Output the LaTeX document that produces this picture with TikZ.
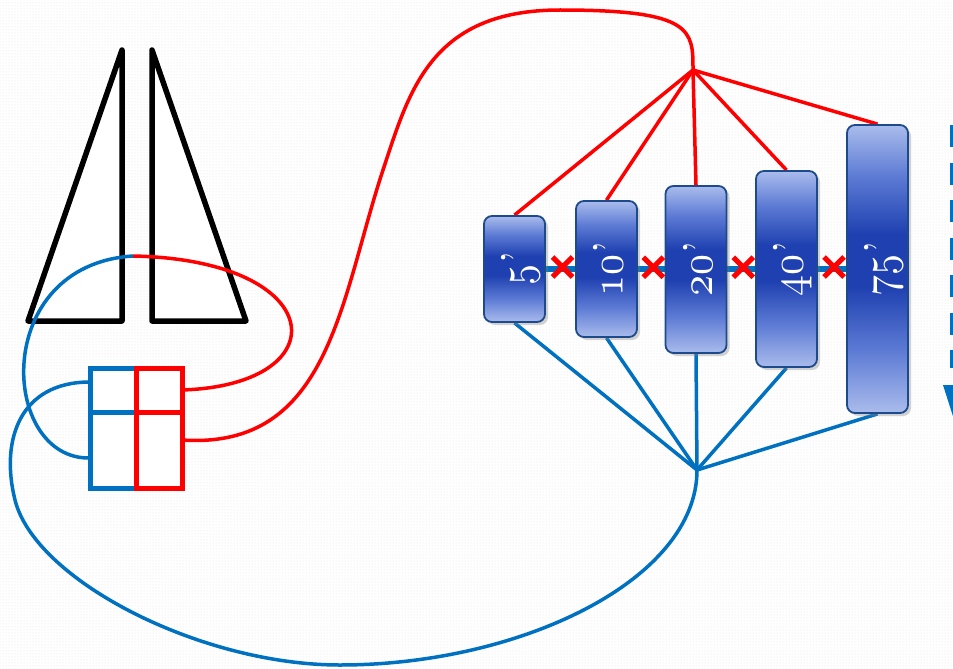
\documentclass[tikz,border=0pt]{standalone}
\usepackage{fontspec}
\usetikzlibrary{shadows,calc,patterns}
\definecolor{cblue}{RGB}{0,112,192}
\definecolor{cred}{RGB}{255,0,0}
\definecolor{blight}{RGB}{170,188,236}
\definecolor{bmid}{RGB}{92,122,212}
\definecolor{bdark}{RGB}{30,64,176}
\definecolor{bborder}{RGB}{28,74,138}
\pgfdeclareverticalshading{boxshade}{100bp}{color(0bp)=(blight); color(25bp)=(blight); color(36bp)=(bmid); color(47bp)=(bdark); color(56bp)=(bdark); color(66bp)=(bmid); color(75bp)=(blight); color(100bp)=(blight)}
\pgfdeclarelayer{back}
\pgfdeclarelayer{bg}
\pgfsetlayers{back,bg,main}
\newcommand{\numlab}[1]{\scalebox{4.2}[4.2]{\scalebox{1}[1.1]{\usefont{OML}{cmm}{m}{it}#1}\kern0.02em’}}
\begin{document}
\begin{tikzpicture}[x=1pt,y=-1pt,
  redcurve/.style={cred, line width=3.5},
  bluecurve/.style={cblue, line width=3.5},
  tri/.style={black, line width=5.5, line join=round, fill=white},
  cellbox/.style={line width=5, fill=white, minimum width=46, minimum height=120, inner sep=0, outer sep=0},
  divider/.style={line width=5},
  timebox/.style={draw=bborder, line width=1.8, rounded corners=8, minimum width=61, inner sep=0,
    shading=boxshade,
    drop shadow={opacity=0.35, shadow xshift=3pt, shadow yshift=-3pt}},
  numtext/.style={rotate=90, anchor=base, text=white, inner sep=0},
  xmark/.style={cred, line width=5},
  linkline/.style={cblue, line width=6}]
\useasboundingbox (0,0) rectangle (953,669);
\begin{pgfonlayer}{back}
  \fill[white] (0,0) rectangle (953,669);
  \fill[pattern=dots, pattern color=black!10] (0,0) rectangle (953,669);
\end{pgfonlayer}

% triangles
\draw[tri] (122,50) -- (122,321) -- (28,321) -- cycle;
\draw[tri] (152,50) -- (152,321) -- (246,321) -- cycle;

% coordinates
\coordinate (top) at (133,256);
\coordinate (bA) at (90,382);
\coordinate (bB) at (90,458);
\coordinate (rA) at (182,390);
\coordinate (rB) at (182,440);
\coordinate (rhub) at (693,70);
\coordinate (bhub) at (697,470);

% curves
\draw[redcurve] (rA) .. controls (340,385) and (330,260) .. (top);
\draw[bluecurve] (top) .. controls (-10,265) and (0,460) .. (bB);
\draw[bluecurve] (bA) .. controls (20,382) and (0,440) .. (15,500)
   .. controls (35,580) and (200,665) .. (340,665)
   .. controls (520,665) and (697,580) .. (bhub);
\draw[redcurve] (rB) .. controls (330,450) and (340,300) .. (383,170)
   .. controls (409,92) and (430,10) .. (560,10)
   .. controls (693,10) and (693,30) .. (rhub);

% left cells
\node[cellbox, draw=cblue] (bbox) at (113,428) {};
\node[cellbox, draw=cred] (rbox) at (159,428) {};
\coordinate (bd1) at (90,412);
\coordinate (bd2) at (136,412);
\coordinate (rd2) at (182,412);
\draw[divider, cblue] (bd1) -- (bd2);
\draw[divider, cred] (bd2) -- (rd2);
\draw[line width=5, cred] (rbox.north west) -- (rbox.south west);

% time boxes
\node[timebox, minimum height=106] (b5) at (514.5,269) {};
\node[timebox, minimum height=136] (b10) at (606.5,269) {};
\node[timebox, minimum height=167] (b20) at (696,269.5) {};
\node[timebox, minimum height=196] (b40) at (786.5,269) {};
\node[timebox, minimum height=288] (b75) at (877.5,269) {};

\node[numtext] (t5) at ($(b5.center)+(16,0)$) {\numlab{5}};
\node[numtext] (t10) at ($(b10.center)+(16,0)$) {\numlab{10}};
\node[numtext] (t20) at ($(b20.center)+(16,0)$) {\numlab{20}};
\node[numtext] (t40) at ($(b40.center)+(16,0)$) {\numlab{40}};
\node[numtext] (t75) at ($(b75.center)+(16,0)$) {\numlab{75}};

\begin{pgfonlayer}{bg}
  \draw[linkline] (b5.east) -- (b75.west);
  \foreach \b in {b5,b10,b20,b40,b75} {
    \draw[redcurve] (rhub) -- (\b.north);
    \draw[bluecurve] (bhub) -- (\b.south);
  }
\end{pgfonlayer}

% x marks
\coordinate (m1) at ($(b5.east)!0.5!(b10.west)+(2,-2)$);
\coordinate (m2) at ($(b10.east)!0.5!(b20.west)+(2,-2)$);
\coordinate (m3) at ($(b20.east)!0.5!(b40.west)+(2,-2)$);
\coordinate (m4) at ($(b40.east)!0.5!(b75.west)+(2,-2)$);
\foreach \m in {m1,m2,m3,m4} {
  \draw[xmark] (\m) ++(-10,-10) -- ++(20,20) (\m) ++(-10,10) -- ++(20,-20);
}

% cut-off dashed arrow at right edge
\begin{scope}
  \clip (0,0) rectangle (953,669);
  \coordinate (ar1) at (958,125);
  \coordinate (ar2) at (958,368);
  \draw[cblue, line width=16, dash pattern=on 22pt off 15.5pt] (ar1) -- (ar2);
  \fill[cblue] (943,385) -- (973,385) -- (958,432) -- cycle;
\end{scope}
\end{tikzpicture}
\end{document}
